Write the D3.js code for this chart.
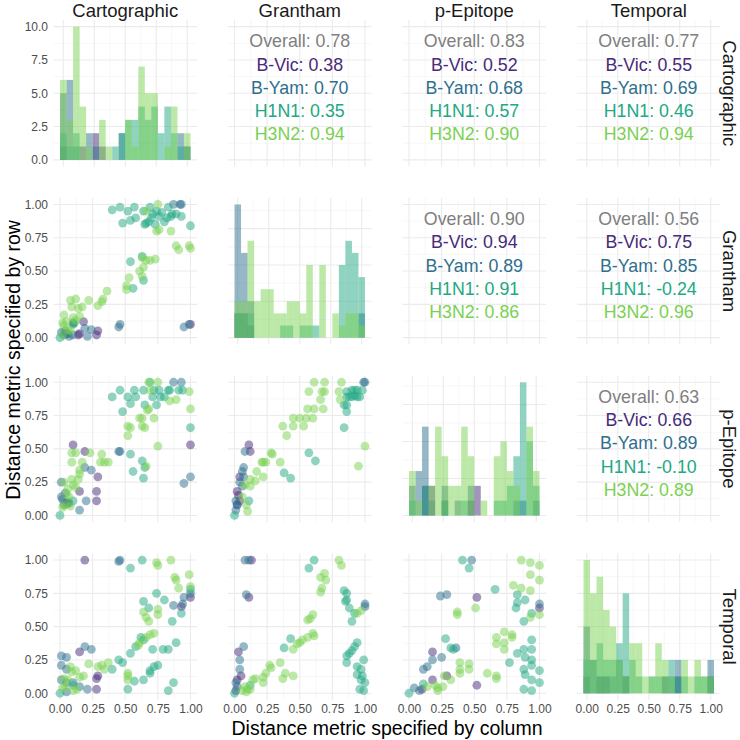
<!DOCTYPE html>
<html>
<head>
<meta charset="utf-8">
<script src="https://cdn.jsdelivr.net/npm/d3@7"></script>
<style>
    body { margin: 0; background: #fff; }
    svg { display: block; font-family: "Liberation Sans", Arial, sans-serif; }
</style>
</head>
<body>
<svg id="chart" width="740" height="740"></svg>
<script>
// metrics in matrix order, subtypes in legend order
const metrics = ["Cartographic", "Grantham", "p-Epitope", "Temporal"];
const subtypes = ["B-Vic", "B-Yam", "H1N1", "H3N2"];

// histogram counts, 20 bins centred on k/19 (rows: B-Vic, B-Yam, H1N1, H3N2)
const histCartographic = [
    [1,0,0,1,0,2,1,0,0,0,0,0,0,0,0,0,0,0,0,1],
    [5,6,1,0,2,1,0,0,0,2,0,0,0,0,0,0,0,0,2,0],
    [2,1,2,0,0,0,0,0,1,2,3,3,4,3,4,2,4,2,1,1],
    [6,3,10,4,1,0,3,1,0,0,3,1,7,5,5,0,1,4,0,2]
];
const histGrantham = [
    [2,2,1,0,0,0,0,0,0,0,0,0,0,0,0,0,0,0,0,0],
    [11,7,3,0,0,0,0,0,0,0,0,0,0,0,0,0,0,0,0,2],
    [2,2,2,0,0,0,0,1,1,0,1,1,1,0,0,0,6,8,7,5],
    [3,3,8,3,4,4,2,2,3,3,2,6,0,6,0,2,1,2,2,1]
];
const histEpitope = [
    [0,0,2,2,0,1,0,0,0,1,2,0,0,0,0,0,0,0,0,0],
    [2,3,6,1,0,2,0,1,0,2,0,0,0,0,0,0,1,1,0,1],
    [1,0,2,0,0,1,0,0,1,0,0,0,0,1,1,2,4,9,5,2],
    [3,1,0,2,6,4,2,2,6,4,0,1,0,4,5,3,2,0,6,3]
];
const histTemporal = [
    [1,0,1,1,0,0,1,0,0,0,0,0,1,0,1,0,0,0,0,1],
    [4,2,1,1,1,2,1,0,0,0,0,0,0,1,2,0,0,0,0,2],
    [2,2,3,2,2,3,6,2,1,0,1,1,1,2,1,1,0,1,1,1],
    [8,6,7,5,4,2,1,3,3,1,1,3,2,1,0,2,1,2,1,1]
];
const histBreaks = [[0, 2.5, 5, 7.5, 10], [0, 3, 6, 9], [0, 2.5, 5, 7.5], [0, 2, 4, 6, 8]];
const unitBreaks = [0, 0.25, 0.5, 0.75, 1];
const countTickLabels = ["0.0", "2.5", "5.0", "7.5", "10.0"];
const unitTickLabels = ["0.00", "0.25", "0.50", "0.75", "1.00"];

// scatter points [x, y, subtype index]
const ptsCartoGrantham = [
    [0.18,0.12,0],[0.10,0.11,0],[0.15,0.03,0],[0.28,0.02,0],[0.29,0.05,0],[1.00,0.10,0],[0.14,0.02,0],
    [0.01,0.04,1],[0.03,0.02,1],[0.05,0.03,1],[0.07,0.01,1],[0.10,0.02,1],[0.19,0.07,1],[0.24,0.06,1],[0.21,0.01,1],[0.45,0.08,1],[0.46,0.10,1],[0.95,0.08,1],[0.99,0.10,1],[0.87,1.00,1],[0.92,1.00,1],[0.93,1.00,1],[0.04,0.05,1],[0.06,0.03,1],
    [0.40,0.96,2],[0.46,0.98,2],[0.48,0.86,2],[0.52,0.95,2],[0.54,0.88,2],[0.57,0.98,2],[0.58,0.90,2],[0.64,0.95,2],[0.65,0.85,2],[0.68,0.87,2],[0.69,0.98,2],[0.71,0.93,2],[0.73,0.85,2],[0.74,0.95,2],[0.76,0.91,2],[0.78,0.94,2],[0.80,0.87,2],[0.82,0.90,2],[0.83,0.98,2],[0.85,0.91,2],[0.86,0.93,2],[0.89,0.93,2],[0.93,0.91,2],[1.00,0.84,2],[0.54,0.57,2],[0.63,0.61,2],[0.64,0.43,2],[0.56,0.37,2],[0.00,0.00,2],[0.10,0.10,2],[0.11,0.11,2],[0.66,0.86,2],[0.70,0.90,2],
    [0.75,1.00,3],[0.66,0.95,3],[0.74,0.80,3],[0.76,0.81,3],[0.85,0.80,3],[0.89,0.69,3],[0.91,0.66,3],[0.99,0.69,3],[1.00,0.67,3],[0.63,0.60,3],[0.66,0.58,3],[0.69,0.58,3],[0.73,0.59,3],[0.64,0.53,3],[0.61,0.50,3],[0.63,0.46,3],[0.53,0.45,3],[0.51,0.39,3],[0.51,0.36,3],[0.36,0.35,3],[0.33,0.29,3],[0.32,0.27,3],[0.29,0.24,3],[0.22,0.28,3],[0.12,0.29,3],[0.08,0.28,3],[0.09,0.23,3],[0.14,0.22,3],[0.17,0.23,3],[0.15,0.16,3],[0.03,0.17,3],[0.02,0.11,3],[0.03,0.09,3],[0.06,0.06,3],[0.10,0.15,3],[0.12,0.13,3],[0.05,0.12,3],[0.08,0.05,3],[0.02,0.02,3]
];
const ptsCartoEpitope = [
    [0.10,0.53,0],[0.19,0.48,0],[0.29,0.29,0],[0.15,0.18,0],[0.28,0.18,0],[0.28,0.11,0],[1.00,0.53,0],[0.05,0.09,0],
    [0.01,0.25,1],[0.19,0.36,1],[0.24,0.34,1],[0.45,0.48,1],[0.46,0.48,1],[0.01,0.14,1],[0.04,0.17,1],[0.03,0.08,1],[0.07,0.09,1],[0.15,0.04,1],[0.20,0.11,1],[0.95,0.24,1],[1.00,0.29,1],[0.87,1.00,1],[0.93,1.00,1],[0.02,0.12,1],[0.06,0.10,1],
    [0.40,0.89,2],[0.46,0.94,2],[0.48,0.78,2],[0.52,0.89,2],[0.54,0.84,2],[0.57,0.94,2],[0.58,0.89,2],[0.64,0.94,2],[0.65,0.83,2],[0.69,1.00,2],[0.71,0.89,2],[0.74,0.83,2],[0.77,0.89,2],[0.80,0.89,2],[0.83,0.94,2],[0.84,0.94,2],[0.91,0.94,2],[0.94,0.94,2],[1.00,0.66,2],[0.54,0.46,2],[0.63,0.41,2],[0.65,0.36,2],[0.64,0.28,2],[0.56,0.33,2],[0.00,0.00,2],[0.10,0.11,2],[0.72,0.94,2],[0.76,0.94,2],
    [0.68,1.00,3],[0.75,1.00,3],[0.69,0.94,3],[0.68,0.80,3],[0.67,0.79,3],[0.61,0.73,3],[0.63,0.73,3],[0.72,0.73,3],[0.52,0.67,3],[0.54,0.66,3],[0.52,0.60,3],[0.63,0.67,3],[0.65,0.66,3],[0.84,0.86,3],[0.89,0.87,3],[0.99,0.93,3],[1.00,0.80,3],[0.75,0.52,3],[0.66,0.37,3],[0.09,0.47,3],[0.12,0.47,3],[0.23,0.47,3],[0.32,0.46,3],[0.09,0.40,3],[0.17,0.40,3],[0.31,0.40,3],[0.34,0.40,3],[0.37,0.40,3],[0.15,0.34,3],[0.15,0.31,3],[0.09,0.27,3],[0.14,0.27,3],[0.10,0.23,3],[0.12,0.21,3],[0.03,0.25,3],[0.05,0.16,3],[0.07,0.14,3],[0.04,0.08,3],[0.08,0.07,3],[0.06,0.20,3],[0.02,0.06,3]
];
const ptsCartoTemporal = [
    [0.19,1.00,0],[0.15,0.31,0],[0.28,0.11,0],[0.29,0.13,0],[0.28,0.03,0],[1.00,0.72,0],[0.93,0.65,0],
    [0.45,0.99,1],[0.46,1.00,1],[0.01,0.28,1],[0.05,0.27,1],[0.01,0.21,1],[0.05,0.18,1],[0.19,0.35,1],[0.24,0.33,1],[0.01,0.10,1],[0.05,0.08,1],[0.10,0.08,1],[0.15,0.05,1],[0.21,0.03,1],[0.05,0.01,1],[0.87,0.66,1],[0.94,0.67,1],[1.00,0.75,1],[0.95,0.72,1],
    [0.63,1.00,2],[0.54,0.94,2],[0.64,0.69,2],[0.68,0.64,2],[0.74,0.75,2],[0.80,0.70,2],[0.86,0.54,2],[0.93,0.60,2],[1.00,0.78,2],[0.64,0.40,2],[0.58,0.35,2],[0.54,0.30,2],[0.71,0.33,2],[0.72,0.20,2],[0.75,0.21,2],[0.79,0.33,2],[0.83,0.33,2],[0.89,0.38,2],[0.69,0.15,2],[0.64,0.10,2],[0.57,0.09,2],[0.52,0.03,2],[0.83,0.02,2],[0.87,0.08,2],[0.45,0.25,2],[0.48,0.23,2],[0.40,0.18,2],[0.69,0.17,2],[0.10,0.06,2],[0.00,0.00,2],[0.62,0.42,2],
    [0.74,0.98,3],[0.75,0.96,3],[0.85,1.00,3],[0.88,0.87,3],[0.89,0.85,3],[0.91,0.79,3],[0.99,0.89,3],[1.00,0.80,3],[0.64,0.61,3],[0.66,0.57,3],[0.68,0.54,3],[0.75,0.63,3],[0.75,0.59,3],[0.72,0.45,3],[0.69,0.44,3],[0.66,0.42,3],[0.61,0.38,3],[0.60,0.36,3],[0.52,0.15,3],[0.52,0.13,3],[0.52,0.10,3],[0.22,0.22,3],[0.34,0.18,3],[0.32,0.21,3],[0.37,0.23,3],[0.29,0.20,3],[0.08,0.20,3],[0.09,0.16,3],[0.12,0.17,3],[0.03,0.11,3],[0.04,0.05,3],[0.13,0.03,3],[0.15,0.12,3],[0.18,0.13,3],[0.10,0.02,3],[0.06,0.10,3],[0.02,0.04,3]
];
const ptsGranthamEpitope = [
    [0.11,0.53,0],[0.12,0.48,0],[0.04,0.29,0],[0.02,0.18,0],[0.04,0.11,0],[0.02,0.08,0],[0.03,0.15,0],
    [0.99,1.00,1],[1.00,1.00,1],[0.08,0.48,1],[0.07,0.36,1],[0.06,0.33,1],[0.07,0.29,1],[0.04,0.25,1],[0.06,0.22,1],[0.01,0.11,1],[0.02,0.08,1],[0.01,0.04,1],
    [0.86,0.93,2],[0.90,0.94,2],[0.94,0.94,2],[0.98,0.94,2],[0.86,0.89,2],[0.90,0.89,2],[0.94,0.89,2],[0.96,0.89,2],[0.84,0.83,2],[0.86,0.83,2],[0.86,0.78,2],[0.84,0.66,2],[0.57,0.47,2],[0.62,0.41,2],[0.38,0.32,2],[0.43,0.28,2],[0.11,0.11,2],[0.00,0.00,2],[0.92,0.94,2],[0.88,0.89,2],[0.92,0.90,2],
    [0.61,1.00,3],[0.69,1.00,3],[0.82,1.00,3],[0.57,0.93,3],[0.67,0.93,3],[0.69,0.93,3],[0.80,0.93,3],[0.66,0.87,3],[0.81,0.87,3],[0.56,0.80,3],[0.61,0.80,3],[0.68,0.80,3],[0.45,0.73,3],[0.50,0.73,3],[0.55,0.73,3],[0.60,0.73,3],[0.37,0.67,3],[0.45,0.67,3],[0.53,0.67,3],[0.40,0.60,3],[1.00,0.52,3],[0.95,0.37,3],[0.28,0.47,3],[0.29,0.46,3],[0.21,0.40,3],[0.24,0.40,3],[0.35,0.40,3],[0.17,0.33,3],[0.22,0.29,3],[0.12,0.27,3],[0.16,0.26,3],[0.08,0.23,3],[0.12,0.22,3],[0.06,0.14,3],[0.09,0.08,3],[0.10,0.03,3],[0.22,0.40,3]
];
const ptsGranthamTemporal = [
    [0.13,1.00,0],[0.11,0.72,0],[0.03,0.31,0],[0.05,0.13,0],[0.02,0.10,0],[0.01,0.02,0],
    [0.08,1.00,1],[0.11,1.00,1],[0.09,0.74,1],[0.07,0.35,1],[0.04,0.25,1],[0.04,0.18,1],[0.01,0.08,1],[0.02,0.05,1],[1.00,0.67,1],[1.00,0.65,1],
    [0.61,1.00,2],[0.57,0.94,2],[0.84,0.77,2],[0.86,0.75,2],[0.86,0.70,2],[0.85,0.69,2],[0.88,0.64,2],[0.92,0.60,2],[0.90,0.54,2],[0.43,0.41,2],[0.38,0.34,2],[0.94,0.38,2],[0.92,0.35,2],[0.90,0.32,2],[0.86,0.28,2],[0.86,0.23,2],[0.99,0.25,2],[0.94,0.20,2],[0.97,0.18,2],[0.94,0.14,2],[0.98,0.13,2],[0.97,0.10,2],[1.00,0.08,2],[0.96,0.03,2],[0.99,0.02,2],[0.00,0.00,2],[0.12,0.06,2],[0.88,0.30,2],
    [0.80,1.00,3],[0.82,0.96,3],[0.69,0.90,3],[0.66,0.87,3],[0.70,0.85,3],[0.67,0.79,3],[0.66,0.76,3],[0.60,0.59,3],[0.58,0.56,3],[0.56,0.55,3],[0.60,0.45,3],[0.61,0.43,3],[0.56,0.42,3],[0.52,0.40,3],[0.50,0.38,3],[0.48,0.37,3],[0.45,0.33,3],[0.97,0.62,3],[0.94,0.60,3],[0.35,0.23,3],[0.27,0.21,3],[0.28,0.19,3],[0.24,0.15,3],[0.22,0.12,3],[0.22,0.08,3],[0.16,0.11,3],[0.14,0.10,3],[0.39,0.15,3],[0.37,0.11,3],[0.45,0.13,3],[0.08,0.05,3],[0.10,0.03,3],[0.06,0.02,3],[0.12,0.03,3],[0.09,0.01,3]
];
const ptsEpitopeTemporal = [
    [0.52,0.72,0],[0.18,0.31,0],[0.29,0.13,0],[0.18,0.10,0],[0.10,0.03,0],[0.52,0.06,0],[1.00,0.64,0],
    [0.48,1.00,1],[0.24,0.73,1],[0.29,0.74,1],[0.36,0.34,1],[0.18,0.25,1],[0.25,0.27,1],[0.11,0.18,1],[0.14,0.20,1],[0.04,0.04,1],[0.08,0.02,1],[1.00,0.67,1],
    [0.41,1.00,2],[0.46,0.94,2],[0.66,0.78,2],[0.83,0.74,2],[0.89,0.70,2],[0.83,0.68,2],[0.82,0.64,2],[0.94,0.60,2],[0.88,0.54,2],[0.28,0.41,2],[0.32,0.34,2],[0.34,0.33,2],[0.83,0.30,2],[0.88,0.33,2],[0.94,0.40,2],[0.94,0.33,2],[0.89,0.27,2],[0.94,0.25,2],[0.77,0.23,2],[0.88,0.18,2],[0.94,0.21,2],[1.00,0.17,2],[0.89,0.14,2],[0.94,0.10,2],[1.00,0.08,2],[0.88,0.03,2],[0.94,0.02,2],[0.00,0.00,2],[0.11,0.07,2],
    [0.86,1.00,3],[0.93,0.98,3],[1.00,0.96,3],[0.93,0.89,3],[1.00,0.85,3],[0.80,0.81,3],[0.86,0.79,3],[0.93,0.77,3],[0.37,0.61,3],[0.37,0.59,3],[0.51,0.64,3],[0.93,0.57,3],[1.00,0.59,3],[0.67,0.42,3],[0.73,0.46,3],[0.73,0.38,3],[0.73,0.33,3],[0.79,0.44,3],[0.79,0.42,3],[0.67,0.37,3],[0.39,0.23,3],[0.39,0.18,3],[0.39,0.15,3],[0.46,0.22,3],[0.46,0.18,3],[0.60,0.15,3],[0.67,0.13,3],[0.67,0.11,3],[0.27,0.13,3],[0.32,0.10,3],[0.26,0.05,3],[0.22,0.04,3],[0.22,0.02,3],[0.14,0.05,3],[0.20,0.06,3]
];

// correlations for the upper panels, pairs given as [row, col]
const corPairs = [[0,1],[0,2],[0,3],[1,2],[1,3],[2,3]];
const corOverall = [0.78, 0.83, 0.77, 0.90, 0.56, 0.63];
const corBVic = [0.38, 0.52, 0.55, 0.94, 0.75, 0.66];
const corBYam = [0.70, 0.68, 0.69, 0.89, 0.85, 0.89];
const corH1N1 = [0.35, 0.57, 0.46, 0.91, -0.24, -0.10];
const corH3N2 = [0.94, 0.90, 0.94, 0.86, 0.96, 0.89];

var colors = [0.12, 0.36, 0.6, 0.8].map(function (t) { return d3.interpolateViridis(t); });
var overallColor = "#7f7f7f";

var panelW = 143.5, panelH = 146.5;
var col0 = 53.5, colStep = 174.5;
var row0 = 20, rowStep = 177.8;
var pointR = 4.4;

var svg = d3.select("#chart");

function px(j) { return col0 + j * colStep; }
function py(i) { return row0 + i * rowStep; }

function unitX(j) { return d3.scaleLinear().domain([-0.05, 1.05]).range([px(j), px(j) + panelW]); }
function unitY(i) { return d3.scaleLinear().domain([-0.05, 1.05]).range([py(i) + panelH, py(i)]); }
function histX(j) { return d3.scaleLinear().domain([-1.5 / 19, 1 + 1.5 / 19]).range([px(j), px(j) + panelW]); }
function histY(i, max) { return d3.scaleLinear().domain([-0.05 * max, 1.05 * max]).range([py(i) + panelH, py(i)]); }

function minorBreaks(breaks, domain) {
    var out = [];
    var step = breaks[1] - breaks[0];
    var cand = [breaks[0] - step / 2];
    for (var k = 0; k < breaks.length; k++) cand.push(breaks[k] + step / 2);
    cand.forEach(function (v) { if (v >= domain[0] && v <= domain[1]) out.push(v); });
    return out;
}

function drawGrid(xs, xb, ys, yb) {
    var g = svg.append("g");
    var x0 = xs.range()[0], x1 = xs.range()[1], y0 = ys.range()[1], y1 = ys.range()[0];
    var mx = minorBreaks(xb, xs.domain()), my = minorBreaks(yb, ys.domain());
    g.selectAll(".mx").data(mx).enter().append("line")
        .attr("x1", function (d) { return xs(d); }).attr("x2", function (d) { return xs(d); })
        .attr("y1", y0).attr("y2", y1)
        .attr("stroke", "#f2f2f2").attr("stroke-width", 0.6);
    g.selectAll(".my").data(my).enter().append("line")
        .attr("y1", function (d) { return ys(d); }).attr("y2", function (d) { return ys(d); })
        .attr("x1", x0).attr("x2", x1)
        .attr("stroke", "#f2f2f2").attr("stroke-width", 0.6);
    g.selectAll(".Mx").data(xb).enter().append("line")
        .attr("x1", function (d) { return xs(d); }).attr("x2", function (d) { return xs(d); })
        .attr("y1", y0).attr("y2", y1)
        .attr("stroke", "#ebebeb").attr("stroke-width", 1.1);
    g.selectAll(".My").data(yb).enter().append("line")
        .attr("y1", function (d) { return ys(d); }).attr("y2", function (d) { return ys(d); })
        .attr("x1", x0).attr("x2", x1)
        .attr("stroke", "#ebebeb").attr("stroke-width", 1.1);
}

// diagonal histograms
var hists = [histCartographic, histGrantham, histEpitope, histTemporal];
hists.forEach(function (h, i) {
    var max = d3.max(h, function (r) { return d3.max(r); });
    var xs = histX(i), ys = histY(i, max);
    drawGrid(xs, unitBreaks, ys, histBreaks[i]);
    var bw = 1 / 19;
    h.forEach(function (counts, s) {
        svg.append("g").selectAll("rect")
            .data(counts.map(function (c, k) { return { k: k, c: c }; }).filter(function (d) { return d.c > 0; }))
            .enter().append("rect")
            .attr("x", function (d) { return xs(d.k * bw - bw / 2); })
            .attr("width", function (d) { return xs(d.k * bw + bw / 2) - xs(d.k * bw - bw / 2); })
            .attr("y", function (d) { return ys(d.c); })
            .attr("height", function (d) { return ys(0) - ys(d.c); })
            .attr("fill", colors[s])
            .attr("fill-opacity", 0.5);
    });
});

// lower scatter panels
var scatters = [
    { row: 1, col: 0, pts: ptsCartoGrantham },
    { row: 2, col: 0, pts: ptsCartoEpitope },
    { row: 3, col: 0, pts: ptsCartoTemporal },
    { row: 2, col: 1, pts: ptsGranthamEpitope },
    { row: 3, col: 1, pts: ptsGranthamTemporal },
    { row: 3, col: 2, pts: ptsEpitopeTemporal }
];
scatters.forEach(function (p) {
    var xs = unitX(p.col), ys = unitY(p.row);
    drawGrid(xs, unitBreaks, ys, unitBreaks);
    svg.append("g").selectAll("circle")
        .data(p.pts)
        .enter().append("circle")
        .attr("cx", function (d) { return xs(d[0]); })
        .attr("cy", function (d) { return ys(d[1]); })
        .attr("r", pointR)
        .attr("fill", function (d) { return colors[d[2]]; })
        .attr("fill-opacity", 0.5);
});

// upper correlation panels
corPairs.forEach(function (pair, k) {
    var i = pair[0], j = pair[1];
    var xs = j === 3 ? histX(j) : unitX(j);
    drawGrid(xs, unitBreaks, unitY(i), unitBreaks);
    var lines = [
        { t: "Overall: " + corOverall[k].toFixed(2), c: overallColor },
        { t: "B-Vic: " + corBVic[k].toFixed(2), c: colors[0] },
        { t: "B-Yam: " + corBYam[k].toFixed(2), c: colors[1] },
        { t: "H1N1: " + corH1N1[k].toFixed(2), c: colors[2] },
        { t: "H3N2: " + corH3N2[k].toFixed(2), c: colors[3] }
    ];
    svg.append("g").selectAll("text")
        .data(lines)
        .enter().append("text")
        .attr("x", px(j) + panelW / 2)
        .attr("y", function (d, n) { return py(i) + 21 + n * 23.3; })
        .attr("dy", "0.35em")
        .attr("text-anchor", "middle")
        .attr("font-size", "17.8px")
        .attr("fill", function (d) { return d.c; })
        .text(function (d) { return d.t; });
});

// axes: left labels per row, bottom labels per column
for (var i = 0; i < 4; i++) {
    var ys = i === 0 ? histY(0, 10) : unitY(i);
    var ax = d3.axisLeft(ys)
        .tickValues(i === 0 ? histBreaks[0] : unitBreaks)
        .tickFormat(function (d, n) { return i === 0 ? countTickLabels[n] : unitTickLabels[n]; })
        .tickSize(0).tickPadding(5.5);
    var g = svg.append("g").attr("transform", "translate(" + px(0) + ",0)").call(ax);
    g.select(".domain").remove();
    g.selectAll("text").attr("font-size", "12px").attr("fill", "#4d4d4d").attr("font-family", null);
}
for (var j = 0; j < 4; j++) {
    var xs = j === 3 ? histX(3) : unitX(j);
    var axb = d3.axisBottom(xs)
        .tickValues(unitBreaks)
        .tickFormat(function (d, n) { return unitTickLabels[n]; })
        .tickSize(0).tickPadding(4.5);
    var gb = svg.append("g").attr("transform", "translate(0," + (py(3) + panelH) + ")").call(axb);
    gb.select(".domain").remove();
    gb.selectAll("text").attr("font-size", "12px").attr("fill", "#4d4d4d").attr("font-family", null);
}

// strips
svg.append("g").selectAll("text")
    .data(metrics).enter().append("text")
    .attr("x", function (d, j) { return px(j) + panelW / 2; })
    .attr("y", 17)
    .attr("text-anchor", "middle")
    .attr("font-size", "18.5px")
    .attr("fill", "#1a1a1a")
    .text(function (d) { return d; });
svg.append("g").selectAll("text")
    .data(metrics).enter().append("text")
    .attr("transform", function (d, i) { return "translate(729.5," + (py(i) + panelH / 2) + ") rotate(90)"; })
    .attr("text-anchor", "middle")
    .attr("dy", "0.35em")
    .attr("font-size", "18.5px")
    .attr("fill", "#1a1a1a")
    .text(function (d) { return d; });

// axis titles
svg.append("text")
    .attr("x", (px(0) + px(3) + panelW) / 2)
    .attr("y", 735)
    .attr("text-anchor", "middle")
    .attr("font-size", "19.5px")
    .text("Distance metric specified by column");
svg.append("text")
    .attr("transform", "translate(13," + (py(0) + py(3) + panelH) / 2 + ") rotate(-90)")
    .attr("text-anchor", "middle")
    .attr("dy", "0.35em")
    .attr("font-size", "19.5px")
    .text("Distance metric specified by row");
</script>
</body>
</html>
